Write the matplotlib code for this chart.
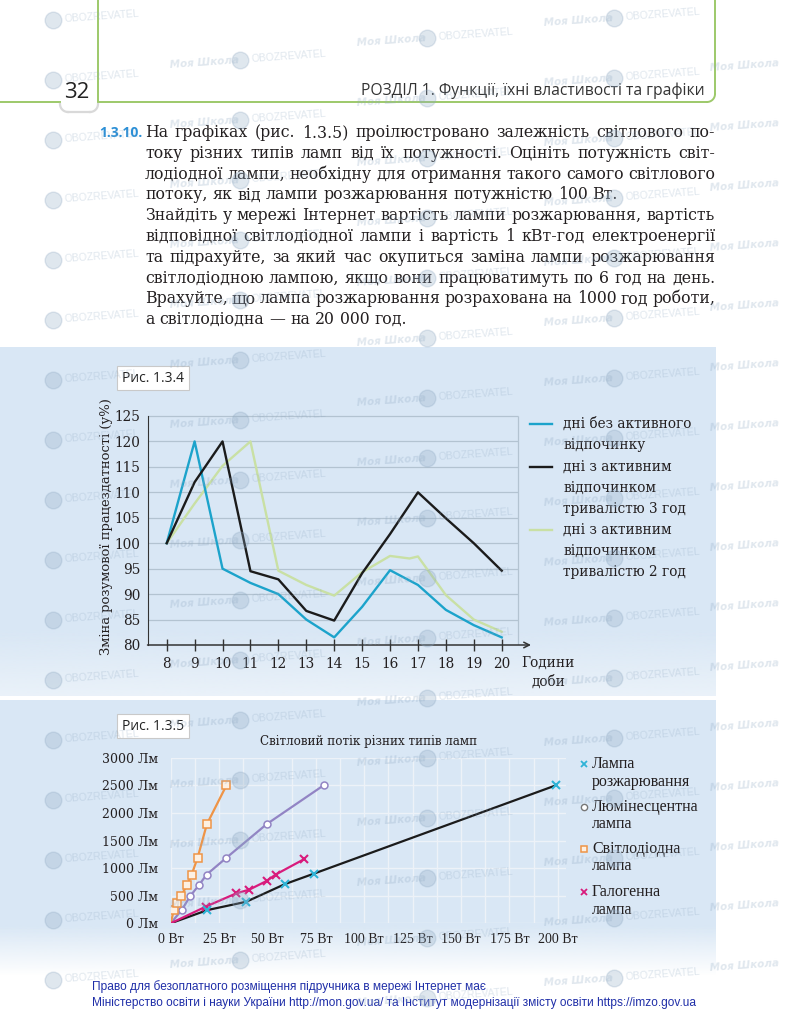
import numpy as np
from matplotlib import pyplot as plt
from matplotlib import font_manager
from matplotlib.colors import to_rgb
from matplotlib.patches import Rectangle

W, H = 786, 1024

# Рис. 1.3.4 -- зміна розумової працездатності, %
hours = [8, 9, 10, 11, 12, 13, 14, 15, 16, 17, 18, 19, 20]
no_rest = [100, 120, 95, 92.2, 90, 85, 81.5, 87.5, 94.7, 91.8, 86.9, 83.9, 81.5]
rest_3h = [100, 112, 120, 94.5, 92.9, 86.7, 84.8, 94.1, 101.8, 110, 104.9, 100, 94.6]
hours_2h = [8, 9, 10, 11, 12, 13, 14, 15, 16, 16.7, 17, 18, 19, 20]
rest_2h = [100, 107.8, 115.2, 120, 94.6, 91.8, 89.7, 94.3, 97.5, 97.0, 97.4, 89.8, 85, 82.6]
legend1 = ["дні без активного\nвідпочинку",
           "дні з активним\nвідпочинком\nтривалістю 3 год",
           "дні з активним\nвідпочинком\nтривалістю 2 год"]

# Рис. 1.3.5 -- світловий потік (Вт -> Лм)
incand_w = [0, 19, 39, 59, 74, 199]
incand_lm = [0, 240, 390, 710, 900, 2500]
fluor_w = [0, 5.7, 10, 14.6, 18.6, 28.8, 49.6, 79]
fluor_lm = [0, 240, 490, 693, 884, 1188, 1797, 2500]
led_w = [0, 1.6, 3.4, 5.3, 8.5, 10.8, 13.9, 18.7, 28.8]
led_lm = [0, 241, 368, 494, 693, 880, 1188, 1797, 2500]
halo_w = [0, 18, 33.7, 40.6, 49.6, 54.2, 69]
halo_lm = [0, 300, 540, 610, 768, 883, 1164]
watt_ticks = [0, 25, 50, 75, 100, 125, 150, 175, 200]
lm_ticks = [0, 500, 1000, 1500, 2000, 2500, 3000]
legend2 = ["Лампа\nрозжарювання", "Люмінесцентна\nлампа", "Світлодіодна\nлампа", "Галогенна\nлампа"]

body = [
    ("На графіках (рис. 1.3.5) проілюстровано залежність світлового по-", True),
    ("току різних типів ламп від їх потужності. Оцініть потужність світ-", True),
    ("лодіодної лампи, необхідну для отримання такого самого світлового", True),
    ("потоку, як від лампи розжарювання потужністю 100 Вт.", False),
    ("Знайдіть у мережі Інтернет вартість лампи розжарювання, вартість", True),
    ("відповідної світлодіодної лампи і вартість 1 кВт-год електроенергії", True),
    ("та підрахуйте, за який час окупиться  заміна лампи розжарювання", True),
    ("світлодіодною лампою, якщо вони працюватимуть по 6 год на день.", True),
    ("Врахуйте, що лампа розжарювання розрахована на 1000 год роботи,", True),
    ("а світлодіодна — на 20 000 год.", False),
]

GREEN_HDR = "#9dc96a"
PANEL = "#d9e7f5"
CYAN = "#1ca3cb"
BLACK = "#1b1b1b"
LGREEN = "#c9e0a4"
GRID1 = "#b3c3d1"
GRID2 = "#edf2f8"
ORANGE = "#ef9446"
PURPLE = "#9284c4"
MAGENTA = "#d81b7c"
CYAN2 = "#2fb3d6"
FOOT = "#1f2ea8"
INK = "#231f20"


def has_font(name):
    try:
        font_manager.findfont(font_manager.FontProperties(family=name), fallback_to_default=False)
        return True
    except ValueError:
        return False


NARROW = "Liberation Sans Narrow" if has_font("Liberation Sans Narrow") else "Liberation Sans"

fig = plt.figure(figsize=(W / 100, H / 100), dpi=100)
renderer = fig.canvas.get_renderer()


def px_axes(x0, x1, y0, y1, **kw):
    return fig.add_axes([x0 / W, 1 - y1 / H, (x1 - x0) / W, (y1 - y0) / H], **kw)


def fit_text(ax, x, y, s, width, size, vertical=False, **kw):
    t = ax.text(x, y, s, fontsize=size, **kw)
    bb = t.get_window_extent(renderer)
    cur = bb.height if vertical else bb.width
    t.set_fontsize(size * width / cur)
    return t


def vfade(ax, x0, x1, y0, y1, a0, a1, color):
    img = np.zeros((64, 1, 4))
    img[..., :3] = to_rgb(color)
    img[:, 0, 3] = np.linspace(a0, a1, 64)
    ax.imshow(img, extent=(x0, x1, y1, y0), aspect="auto", interpolation="bilinear", origin="upper")


# page background layer
bg = fig.add_axes([0, 0, 1, 1], zorder=0)
bg.axis("off")

# blue panels
bg.add_patch(Rectangle((0, 347), 716, 283, fc=PANEL, ec="none"))
vfade(bg, 0, 716, 630, 696, 1.0, 0.55, PANEL)
bg.add_patch(Rectangle((0, 700), 716, 225, fc=PANEL, ec="none"))
vfade(bg, 0, 716, 925, 976, 1.0, 0.0, PANEL)

# header frame
bg.plot([98, 98], [0, 102], color=GREEN_HDR, lw=1.4)
bg.plot([0, 60], [102, 102], color=GREEN_HDR, lw=1.4)
bg.plot([98, 707], [102, 102], color=GREEN_HDR, lw=1.4)
bg.plot([715, 715], [0, 94], color=GREEN_HDR, lw=1.4)
t = np.linspace(0, np.pi / 2, 20)
bg.plot(707 + 8 * np.cos(t), 94 + 8 * np.sin(t), color=GREEN_HDR, lw=1.4)
bg.plot(68 - 8 * np.cos(t), 104 + 8 * np.sin(t), color="#d9d9d9", lw=1.6)
bg.plot([68, 90], [112, 112], color="#d9d9d9", lw=1.6)
bg.plot(90 + 8 * np.sin(t), 104 + 8 * np.cos(t), color="#d9d9d9", lw=1.6)
bg.text(77, 92, "32", ha="center", va="center", fontsize=16, family="Open Sans", color="#222222")
fit_text(bg, 705, 91, "РОЗДІЛ 1. Функції, їхні властивості та графіки", 343, 11,
         ha="right", va="center", family="Open Sans", color="#333333")

# exercise text
bg.text(99, 137, "1.3.10.", ha="left", va="baseline", fontsize=10, family="Open Sans",
        weight="bold", color="#2b8fd6")
space = 5.0
for i, (line, full) in enumerate(body):
    y = 137 + i * 20.8
    words = line.split()
    arts = [bg.text(145, y, w, va="baseline", ha="left", fontsize=11.3, family="DejaVu Serif", color=INK)
            for w in words]
    widths = [a.get_window_extent(renderer).width for a in arts]
    gap = (715 - 145 - sum(widths)) / (len(words) - 1) if full else space
    x = 145
    for a, w in zip(arts, widths):
        a.set_x(x)
        x += w + gap

# figure captions
for y, s in [(378, "Рис. 1.3.4"), (726, "Рис. 1.3.5")]:
    bg.text(153, y, s, ha="center", va="center", fontsize=10, family="Open Sans", color="#222222",
            bbox=dict(boxstyle="square,pad=0.35", fc="white", ec="#c9c9c9", lw=0.8))

# ---------------- Рис. 1.3.4 ----------------
ax1 = px_axes(147.5, 532, 410, 645, zorder=1)
ax1.set_facecolor("none")
sx = 27.917
sy = 5.089
x1min, x1max = 8 - (166.7 - 147.5) / sx, 8 + (532 - 166.7) / sx
ax1.set_xlim(x1min, x1max)
ax1.set_ylim(80, 80 + (645 - 410) / sy)
ax1.hlines(range(85, 126, 5), x1min, 20.58, color=GRID1, lw=0.9, zorder=0)
ax1.vlines(20.58, 80, 125, color=GRID1, lw=0.9, zorder=0)
ax1.plot(hours_2h, rest_2h, color=LGREEN, lw=1.7)
ax1.plot(hours, no_rest, color=CYAN, lw=1.7)
ax1.plot(hours, rest_3h, color=BLACK, lw=1.7)
for side in ["top", "right", "bottom"]:
    ax1.spines[side].set_visible(False)
ax1.spines["left"].set_bounds(80, 125)
ax1.spines["left"].set_color("#333333")
ax1.annotate("", xy=(21.05, 80), xytext=(x1min, 80), annotation_clip=False,
             arrowprops=dict(arrowstyle="->", color="#333333", lw=1.1, shrinkA=0, shrinkB=0))
ax1.set_xticks(hours)
ax1.set_yticks(range(80, 126, 5))
ax1.tick_params(axis="x", direction="inout", length=9, width=1, color="#333333", pad=4)
ax1.tick_params(axis="y", length=0, pad=5)
for lab in ax1.get_xticklabels() + ax1.get_yticklabels():
    lab.set_family("DejaVu Serif")
    lab.set_fontsize(9.8)
    lab.set_color(INK)

fit_text(bg, 107, 527, "Зміна розумової працездатності (у%)", 258, 9.5, vertical=True,
         rotation=90, ha="center", va="center", family="DejaVu Serif", color=INK)
bg.text(548, 663, "Години", ha="center", va="center", fontsize=9.8, family="DejaVu Serif", color=INK)
bg.text(548, 682, "доби", ha="center", va="center", fontsize=9.8, family="DejaVu Serif", color=INK)

for (yy, col, lab) in zip([424, 467, 530], [CYAN, BLACK, LGREEN], legend1):
    bg.plot([530, 552], [yy, yy], color=col, lw=1.7)
    for k, part in enumerate(lab.split("\n")):
        bg.text(563, yy + 21 * k, part, ha="left", va="center", fontsize=9.8,
                family="DejaVu Serif", color=INK)

# ---------------- Рис. 1.3.5 ----------------
sw = 1.936
ax2 = px_axes(170.7, 566, 757.7, 923.3, zorder=1)
ax2.set_facecolor("none")
ax2.set_xlim(0, (566 - 170.7) / sw)
ax2.set_ylim(0, 3000)
ax2.set_xticks(watt_ticks)
ax2.set_xticks(np.arange(12.5, 201, 25), minor=True)
ax2.set_yticks(lm_ticks)
ax2.grid(True, which="both", axis="x", color=GRID2, lw=1.0)
ax2.grid(True, which="major", axis="y", color=GRID2, lw=1.0)
ax2.set_axisbelow(True)
for s in ax2.spines.values():
    s.set_visible(False)
ax2.set_xticklabels([f"{v} Вт" for v in watt_ticks])
ax2.set_yticklabels([f"{v} Лм" for v in lm_ticks])
ax2.tick_params(which="both", length=0)
ax2.tick_params(axis="x", pad=7)
ax2.tick_params(axis="y", pad=9)
for lab in ax2.get_xticklabels():
    lab.set_family("Liberation Serif")
    lab.set_fontsize(10)
    lab.set_color(INK)
for lab in ax2.get_yticklabels():
    lab.set_family("DejaVu Serif")
    lab.set_fontsize(9)
    lab.set_color(INK)

ax2.plot(incand_w, incand_lm, color=BLACK, lw=1.6, zorder=3)
ax2.plot(incand_w[1:], incand_lm[1:], ls="none", marker="x", ms=5.5, mew=1.5, color=CYAN2, zorder=4)
ax2.plot(fluor_w, fluor_lm, color=PURPLE, lw=1.6, marker="o", ms=5, mfc="white", mec=PURPLE,
         mew=1.1, markevery=slice(1, None), zorder=3)
ax2.plot(led_w, led_lm, color=ORANGE, lw=1.6, marker="s", ms=5.5, mfc="#fdf0e2", mec=ORANGE,
         mew=1.1, markevery=slice(1, None), zorder=3)
ax2.plot(halo_w, halo_lm, color=MAGENTA, lw=1.6, marker="x", ms=6, mew=1.5,
         markevery=slice(1, None), zorder=3)

fit_text(bg, 369, 742, "Світловий потік різних типів ламп", 215, 9.5,
         ha="center", va="center", family="DejaVu Serif", color=INK)

leg_styles = [dict(marker="x", color=CYAN2, mew=1.3, ms=5),
              dict(marker="o", color="#777777", mfc="white", mew=1.0, ms=4.5),
              dict(marker="s", color=ORANGE, mfc="#fdf0e2", mew=1.1, ms=5),
              dict(marker="x", color=MAGENTA, mew=1.3, ms=5)]
for yy, st, lab in zip([764, 807, 849, 892], leg_styles, legend2):
    bg.plot([584], [yy], ls="none", **st)
    for k, part in enumerate(lab.split("\n")):
        bg.text(592, yy + 17.5 * k, part, ha="left", va="center", fontsize=11.5,
                family="Liberation Serif", color=INK)

# footer
f2 = fit_text(bg, 92, 1003, "Міністерство освіти і науки України http://mon.gov.ua/ та Інститут модернізації "
              "змісту освіти https://imzo.gov.ua", 601, 9.5, ha="left", va="center", family=NARROW, color=FOOT)
bg.text(92, 987, "Право для безоплатного розміщення підручника в мережі Інтернет має", ha="left",
        va="center", fontsize=f2.get_fontsize(), family=NARROW, color=FOOT)

bg.set_xlim(0, W)
bg.set_ylim(H, 0)

# watermark layer (only the pieces that sit fully on the page)
fg = fig.add_axes([0, 0, 1, 1], zorder=3)
fg.axis("off")
WM = "#8fa9c2"
rot = 4
tn = np.tan(np.radians(rot))
for cx, off in [(-17, 22), (170, 2), (357, 40), (544, 20), (710, 5)]:
    for wy in range(off, H, 60):
        if wy < 14 or wy > H - 14:
            continue
        if cx >= 0:
            fg.text(cx, wy + 3, "Моя Школа", fontsize=7.5, style="italic", weight="bold", color=WM,
                    alpha=0.28, rotation=rot, rotation_mode="anchor", ha="left", va="center")
        if cx + 130 < W:
            fg.plot([cx + 70], [wy + 3 - 70 * tn], marker="o", ms=12, color=WM, alpha=0.28, ls="none")
            fg.text(cx + 81, wy + 3 - 81 * tn, "OBOZREVATEL", fontsize=7.5, family=NARROW, color=WM,
                    alpha=0.28, rotation=rot, rotation_mode="anchor", ha="left", va="center")
fg.set_xlim(0, W)
fg.set_ylim(H, 0)

fig.savefig("out.png", dpi=100, facecolor="white")
